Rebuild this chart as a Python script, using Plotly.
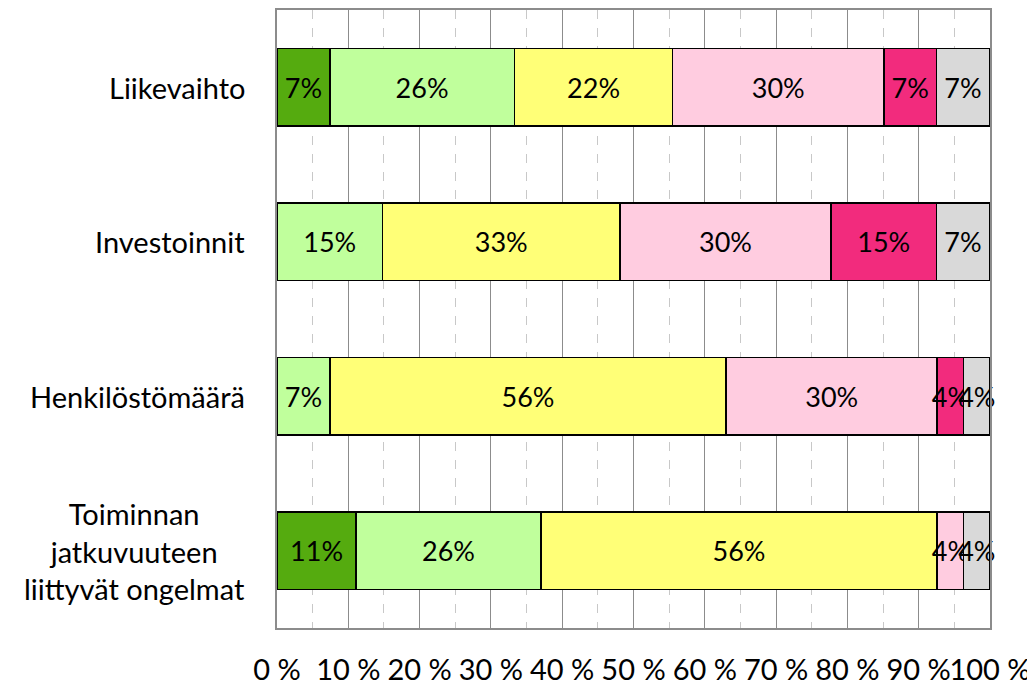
import plotly.graph_objects as go

categories = ["Liikevaihto", "Investoinnit", "Henkilöstömäärä",
              "Toiminnan<br>jatkuvuuteen<br>liittyvät ongelmat"]
series_names = ["S1", "S2", "S3", "S4", "S5", "S6"]
# percentages (n=27 respondents)
s1 = [7.4, None, None, 11.1]
s2 = [25.9, 14.8, 7.4, 25.9]
s3 = [22.2, 33.3, 55.6, 55.6]
s4 = [29.6, 29.6, 29.6, 3.7]
s5 = [7.4, 14.8, 3.7, None]
s6 = [7.4, 7.4, 3.7, 3.7]
series_values = [s1, s2, s3, s4, s5, s6]
colors = ["#55AB0F", "#C0FF9C", "#FFFF77", "#FFCCE0", "#F22B7D", "#D9D9D9"]
tick_vals = list(range(0, 101, 10))
tick_text = [f"{v} %" for v in tick_vals]

FONT = "Lato, 'Open Sans', sans-serif"

fig = go.Figure()
for name, vals, col in zip(series_names, series_values, colors):
    fig.add_trace(go.Bar(
        y=categories, x=vals, name=name, orientation="h",
        marker=dict(color=col, line=dict(color="black", width=1.5)),
        texttemplate="%{x:.0f}%", textposition="inside",
        insidetextanchor="middle", textangle=0,
        textfont=dict(size=27, color="black", family=FONT),
        cliponaxis=False,
    ))

for c in categories:
    fig.add_annotation(x=-0.042, y=c, xref="paper", yref="y", text=c,
                       showarrow=False, xanchor="right", yanchor="middle",
                       align="center", font=dict(size=29, color="black", family=FONT))

fig.update_layout(
    barmode="stack", bargap=0.5, showlegend=False,
    width=1035, height=686,
    margin=dict(l=269, r=53, t=2, b=66, autoexpand=False),
    plot_bgcolor="white", paper_bgcolor="white",
    uniformtext=dict(minsize=27, mode="show"),
    font=dict(family=FONT, size=27, color="black"),
)
fig.update_xaxes(
    range=[0, 100], tickvals=tick_vals, ticktext=tick_text,
    tickangle=0, automargin=False,
    showgrid=True, gridcolor="#8C8C8C", gridwidth=1,
    minor=dict(dtick=5, showgrid=True, gridcolor="#C8C8C8", griddash="dash", gridwidth=1),
    showline=True, mirror=True, linecolor="#8C8C8C", linewidth=1.5,
    ticks="", ticklabelstandoff=15, zeroline=False,
    tickfont=dict(size=29, family=FONT),
)
fig.update_yaxes(
    categoryorder="array", categoryarray=categories, autorange="reversed",
    showticklabels=False, showgrid=False, automargin=False,
    showline=True, mirror=True, linecolor="#8C8C8C", linewidth=1.5,
)

fig.write_html("out.html")
